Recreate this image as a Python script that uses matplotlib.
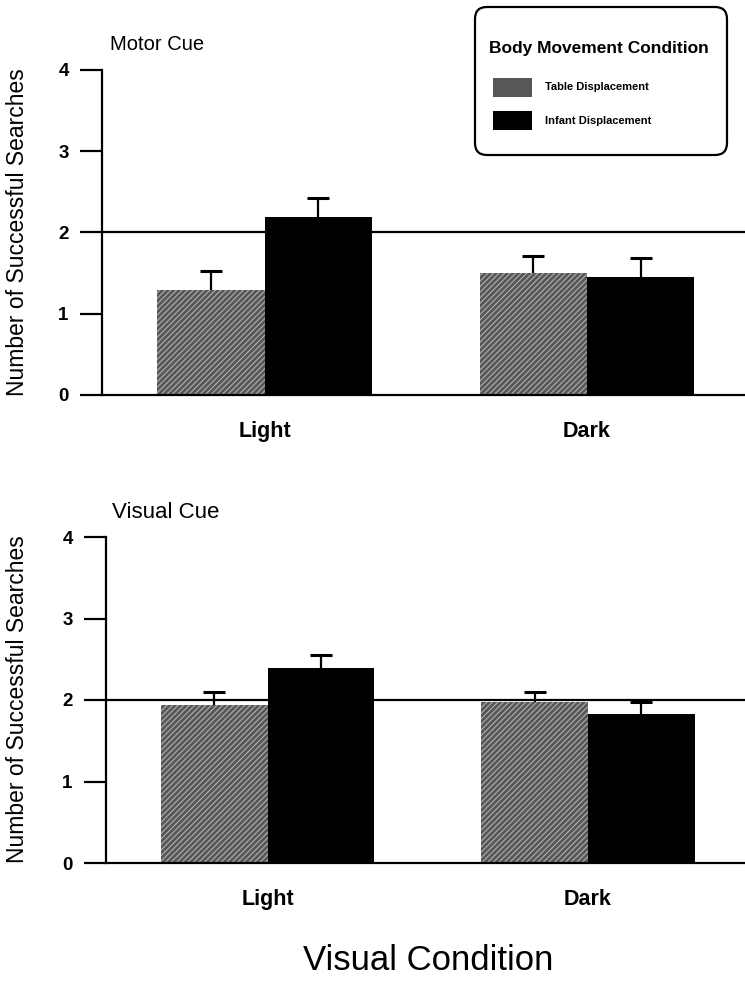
import matplotlib
matplotlib.use('Agg')
import matplotlib.pyplot as plt
import numpy as np
from matplotlib.patches import FancyBboxPatch, Rectangle

plt.rcParams['font.family'] = ['Liberation Sans', 'DejaVu Sans']
plt.rcParams['hatch.linewidth'] = 0.8

# data
conditions = ['Light', 'Dark']
series = ['Table Displacement', 'Infant Displacement']
motor_table = [1.29, 1.50]
motor_table_se = [0.24, 0.21]
motor_infant = [2.19, 1.45]
motor_infant_se = [0.23, 0.24]
visual_table = [1.94, 1.98]
visual_table_se = [0.16, 0.12]
visual_infant = [2.39, 1.83]
visual_infant_se = [0.16, 0.15]
chance_level = 2

W, H = 745, 986
fig = plt.figure(figsize=(W / 100, H / 100), dpi=100)

TABLE_STYLE = dict(color='#575757', edgecolor='#b0b0b0', hatch='//////', linewidth=0)
INFANT_STYLE = dict(color='black', linewidth=0)


def draw_panel(rect, table, table_se, infant, infant_se):
    ax = fig.add_axes(rect)
    x = np.arange(len(conditions))
    bw = 0.333
    ax.axhline(chance_level, color='black', lw=1.6, zorder=1)
    ax.bar(x - bw / 2, table, bw, zorder=2, **TABLE_STYLE)
    ax.bar(x + bw / 2, infant, bw, zorder=2, **INFANT_STYLE)
    for xs, vals, errs in [(x - bw / 2, table, table_se), (x + bw / 2, infant, infant_se)]:
        _, caps, _ = ax.errorbar(xs, vals, yerr=[np.zeros(len(vals)), errs], fmt='none',
                                 ecolor='black', elinewidth=1.6, capsize=8, capthick=2.2,
                                 zorder=3)
        # only the upper cap is drawn in the original
        for c in caps:
            if np.allclose(c.get_ydata(), vals):
                c.set_visible(False)
    ax.set_xlim(-0.504, 1.49)
    ax.set_ylim(0, 4)
    ax.set_yticks([0, 1, 2, 3, 4])
    ax.set_xticks(x)
    ax.set_xticklabels(conditions, fontsize=15.5, fontweight='bold')
    ax.tick_params(axis='x', length=0, pad=19)
    ax.tick_params(axis='y', length=16, width=1.6, pad=8, labelsize=13.5)
    for lab in ax.get_yticklabels():
        lab.set_fontweight('bold')
    for s in ['top', 'right']:
        ax.spines[s].set_visible(False)
    ax.spines['left'].set_linewidth(1.6)
    ax.spines['bottom'].set_linewidth(1.6)
    return ax


ax1 = draw_panel([102 / W, 1 - 395 / H, (W - 102) / W, 325 / H],
                 motor_table, motor_table_se, motor_infant, motor_infant_se)
ax2 = draw_panel([106 / W, 1 - 863 / H, (W - 106) / W, 326 / H],
                 visual_table, visual_table_se, visual_infant, visual_infant_se)

fig.text(110 / W, 1 - 45 / H, 'Motor Cue', fontsize=14.5, ha='left', va='center')
fig.text(112 / W, 1 - 513 / H, 'Visual Cue', fontsize=16, ha='left', va='center')
fig.text(18 / W, 1 - 232 / H, 'Number of Successful Searches', fontsize=16.5,
         rotation=90, ha='center', va='center')
fig.text(18 / W, 1 - 699 / H, 'Number of Successful Searches', fontsize=16.5,
         rotation=90, ha='center', va='center')
fig.text(428 / W, 1 - 960 / H, 'Visual Condition', fontsize=25, ha='center', va='center')

# legend box drawn in pixel units
lx, ly, lw, lh = 473, 5, 256, 152
lax = fig.add_axes([lx / W, 1 - (ly + lh) / H, lw / W, lh / H])
lax.set_xlim(0, lw)
lax.set_ylim(lh, 0)
lax.axis('off')
lax.add_patch(FancyBboxPatch((2, 2), lw - 4, lh - 4, boxstyle='round,pad=0,rounding_size=12',
                             facecolor='white', edgecolor='black', linewidth=1.6, clip_on=False))
lax.text(lw / 2 - 2, 44, 'Body Movement Condition', fontsize=12.5, fontweight='bold',
         ha='center', va='center')
lax.add_patch(Rectangle((20, 73), 39, 19, **TABLE_STYLE))
lax.add_patch(Rectangle((20, 106), 39, 19, **INFANT_STYLE))
lax.text(72, 82, series[0], fontsize=8, fontweight='bold', ha='left', va='center')
lax.text(72, 116, series[1], fontsize=8, fontweight='bold', ha='left', va='center')

fig.savefig('out.png', dpi=100)
